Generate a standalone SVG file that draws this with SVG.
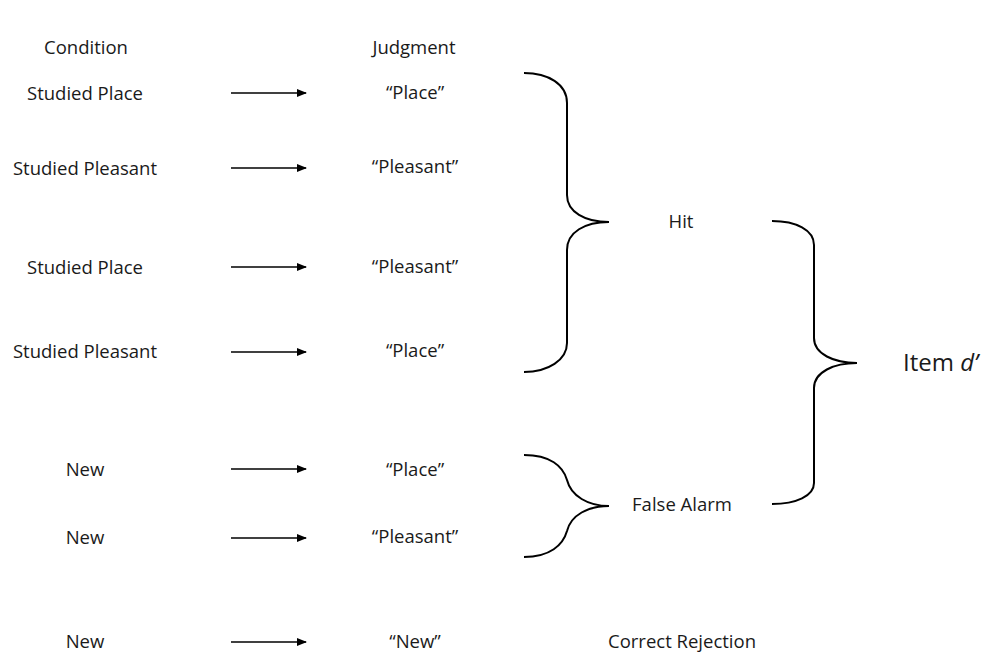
<svg xmlns="http://www.w3.org/2000/svg" width="1000" height="667" viewBox="0 0 1000 667">
<defs>
<marker id="ah" markerWidth="10" markerHeight="8" refX="9" refY="4" orient="auto" markerUnits="userSpaceOnUse">
<path d="M0,0 L10,4 L0,8 Z" fill="#000"/>
</marker>
<style>
text{font-family:"Open Sans","Noto Sans","Liberation Sans",sans-serif;font-size:18.5px;fill:#1a1a1a;text-anchor:middle;dominant-baseline:central}
.arrow{stroke:#000;stroke-width:1.6;fill:none;marker-end:url(#ah)}
.brace{stroke:#000;stroke-width:2;fill:none}
</style>
</defs>
<rect width="1000" height="667" fill="#fff"/>
<g id="headers">
<text x="86" y="46">Condition</text>
<text x="414" y="46">Judgment</text>
</g>
<g id="row1"><text x="85" y="92">Studied Place</text><text x="415" y="91">“Place”</text></g>
<g id="row2"><text x="85" y="167">Studied Pleasant</text><text x="415" y="165">“Pleasant”</text></g>
<g id="row3"><text x="85" y="266">Studied Place</text><text x="415" y="265">“Pleasant”</text></g>
<g id="row4"><text x="85" y="350">Studied Pleasant</text><text x="415" y="349">“Place”</text></g>
<g id="row5"><text x="85" y="468">New</text><text x="415" y="468">“Place”</text></g>
<g id="row6"><text x="85" y="536">New</text><text x="415" y="535">“Pleasant”</text></g>
<g id="row7"><text x="85" y="640">New</text><text x="415" y="640">“New”</text></g>
<g id="hit"><text x="681" y="220">Hit</text></g>
<g id="falsealarm"><text x="682" y="503">False Alarm</text></g>
<g id="correctrejection"><text x="682" y="640">Correct  Rejection</text></g>
<g id="itemd"><text x="903" y="361" style="font-size:24px;text-anchor:start">Item <tspan font-style="italic">d’</tspan></text></g>
<g id="connectors">
<line class="arrow" x1="231" y1="93" x2="306" y2="93"/>
<line class="arrow" x1="231" y1="168" x2="306" y2="168"/>
<line class="arrow" x1="231" y1="267" x2="306" y2="267"/>
<line class="arrow" x1="231" y1="352" x2="306" y2="352"/>
<line class="arrow" x1="231" y1="469" x2="306" y2="469"/>
<line class="arrow" x1="231" y1="538" x2="306" y2="538"/>
<line class="arrow" x1="231" y1="642" x2="306" y2="642"/>
<path class="brace" d="M524,73 C548,73 567,84 567,103 L567,195 C567,212 585,222 609,222 C585,222 567,232 567,250 L567,343 C567,360 548,372 524,372"/>
<path class="brace" d="M524,455 C550,455 563,466 567,480 C571,496 588,506 609,506 C588,506 571,515 567,531 C563,545 550,557 524,557"/>
<path class="brace" d="M772,221 C796,221 814,230 814,245 L814,338 C814,354 834,363 857,363 C834,363 814,372 814,388 L814,483 C814,496 796,504 772,504"/>
</g>
</svg>
